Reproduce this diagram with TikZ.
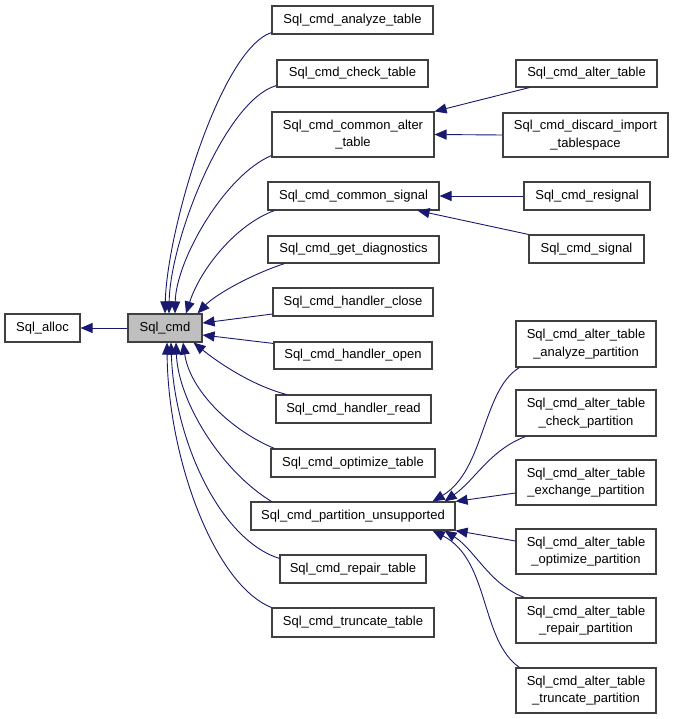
\documentclass[tikz,border=0pt]{standalone}
\usepackage{fontspec}
\setmainfont{Liberation Sans}
\usetikzlibrary{arrows.meta}
\definecolor{edgecol}{RGB}{25,25,112}
\definecolor{boxline}{RGB}{64,64,64}
\definecolor{curfill}{RGB}{191,191,191}
\tikzset{
  box/.style={draw=boxline, line width=1.1pt, fill=white, rectangle, inner sep=0pt,
    minimum height=28pt, align=center, font=\fontsize{13}{17.5}\selectfont},
  tall/.style={minimum height=45pt},
  edge/.style={draw=edgecol, line width=0.9pt, -{Triangle[length=12pt,width=10pt]}},
}
\begin{document}
\begin{tikzpicture}[x=1pt,y=-1pt]
\useasboundingbox[fill=white] (0,0) rectangle (675,719);
% left
\node[box, minimum width=75pt] (al) at (42.5,328) {Sql\_alloc};
\node[box, minimum width=74pt, fill=curfill] (cmd) at (165,328) {Sql\_cmd};
% middle column
\node[box, minimum width=161pt] (an) at (352.5,20) {Sql\_cmd\_analyze\_table};
\node[box, minimum width=151pt, minimum height=27pt] (ck) at (352.5,73.5) {Sql\_cmd\_check\_table};
\node[box, tall, minimum width=162pt] (ca) at (353,134.5) {Sql\_cmd\_common\_alter\\\_table};
\node[box, minimum width=171pt] (cs) at (353.5,196) {Sql\_cmd\_common\_signal};
\node[box, minimum width=171pt, minimum height=27pt] (gd) at (353.5,249.5) {Sql\_cmd\_get\_diagnostics};
\node[box, minimum width=160pt] (hc) at (353,302) {Sql\_cmd\_handler\_close};
\node[box, minimum width=158pt, minimum height=27pt] (ho) at (353,355.5) {Sql\_cmd\_handler\_open};
\node[box, minimum width=155pt] (hr) at (353.5,409) {Sql\_cmd\_handler\_read};
\node[box, minimum width=164pt] (ot) at (353,463) {Sql\_cmd\_optimize\_table};
\node[box, minimum width=204pt] (pu) at (353,516) {Sql\_cmd\_partition\_unsupported};
\node[box, minimum width=146pt] (rt) at (353,569) {Sql\_cmd\_repair\_table};
\node[box, minimum width=162pt, minimum height=29pt] (tt) at (353,622.5) {Sql\_cmd\_truncate\_table};
% right column
\node[box, minimum width=141pt, minimum height=27pt] (at) at (586.5,73.5) {Sql\_cmd\_alter\_table};
\node[box, tall, minimum width=165pt, minimum height=44pt] (di) at (585.5,135) {Sql\_cmd\_discard\_import\\\_tablespace};
\node[box, minimum width=126pt] (rs) at (587,196) {Sql\_cmd\_resignal};
\node[box, minimum width=115pt] (sg) at (586.5,249) {Sql\_cmd\_signal};
\node[box, tall, minimum width=140pt, minimum height=46pt] (ap) at (586,344) {Sql\_cmd\_alter\_table\\\_analyze\_partition};
\node[box, tall, minimum width=140pt, minimum height=46pt] (cp) at (586,413) {Sql\_cmd\_alter\_table\\\_check\_partition};
\node[box, tall, minimum width=140pt] (ep) at (586,482.5) {Sql\_cmd\_alter\_table\\\_exchange\_partition};
\node[box, tall, minimum width=140pt] (op) at (586,551.5) {Sql\_cmd\_alter\_table\\\_optimize\_partition};
\node[box, tall, minimum width=140pt] (rp) at (586,620.5) {Sql\_cmd\_alter\_table\\\_repair\_partition};
\node[box, tall, minimum width=140pt] (tp) at (586,690.5) {Sql\_cmd\_alter\_table\\\_truncate\_partition};
% edges to Sql_alloc
\draw[edge] (cmd.west) -- (al.east);
% edges to Sql_cmd (upper)
\draw[edge] ([yshift=2pt]an.south west) .. controls (220,50) and (167,230) .. (cmd.north);
\draw[edge] ([yshift=2pt]ck.south west) .. controls (225,100) and (170,240) .. ([xshift=4pt]cmd.north);
\draw[edge] ([yshift=2pt]ca.south west) .. controls (225,175) and (176,260) .. ([xshift=10pt]cmd.north);
\draw[edge] ([xshift=7pt]cs.south west) .. controls (235,225) and (200,270) .. ([xshift=21pt]cmd.north);
\draw[edge] ([xshift=17pt]gd.south west) .. controls (250,275) and (215,295) .. ([xshift=-5pt]cmd.north east);
\draw[edge] ([yshift=-12pt]hc.west) -- ([yshift=5pt]cmd.east);
\draw[edge] ([yshift=-2pt]ho.north west) -- ([yshift=-7pt]cmd.east);
% edges to Sql_cmd (lower)
\draw[edge] ([xshift=11pt]hr.north west) .. controls (250,385) and (215,360) .. ([xshift=-9pt]cmd.south east);
\draw[edge] ([xshift=4pt]ot.north west) .. controls (230,430) and (190,390) .. ([xshift=18pt]cmd.south);
\draw[edge] ([xshift=21pt]pu.north west) .. controls (220,470) and (178,400) .. ([xshift=11pt]cmd.south);
\draw[edge] ([yshift=-4pt]rt.north west) .. controls (220,540) and (174,440) .. ([xshift=6pt]cmd.south);
\draw[edge] (tt.north west) .. controls (215,585) and (168,460) .. ([xshift=2pt]cmd.south);
% right edges
\draw[edge] ([xshift=14pt]at.south west) -- (ca.north east);
\draw[edge] (di.west) -- (ca.east);
\draw[edge] (rs.west) -- (cs.east);
\draw[edge] (sg.north west) -- ([xshift=-22pt]cs.south east);
% partition edges
\draw[edge] ([xshift=4pt]ap.south west) .. controls (482,390) and (485,470) .. ([xshift=-23pt]pu.north east);
\draw[edge] ([xshift=10pt]cp.south west) .. controls (490,450) and (475,480) .. ([xshift=-11pt]pu.north east);
\draw[edge] ([yshift=-10.5pt]ep.west) -- (pu.north east);
\draw[edge] ([yshift=10.5pt]op.west) -- (pu.south east);
\draw[edge] ([xshift=9pt]rp.north west) .. controls (490,585) and (475,550) .. ([xshift=-11pt]pu.south east);
\draw[edge] ([xshift=4pt]tp.north west) .. controls (480,640) and (490,560) .. ([xshift=-23pt]pu.south east);
\end{tikzpicture}
\end{document}
